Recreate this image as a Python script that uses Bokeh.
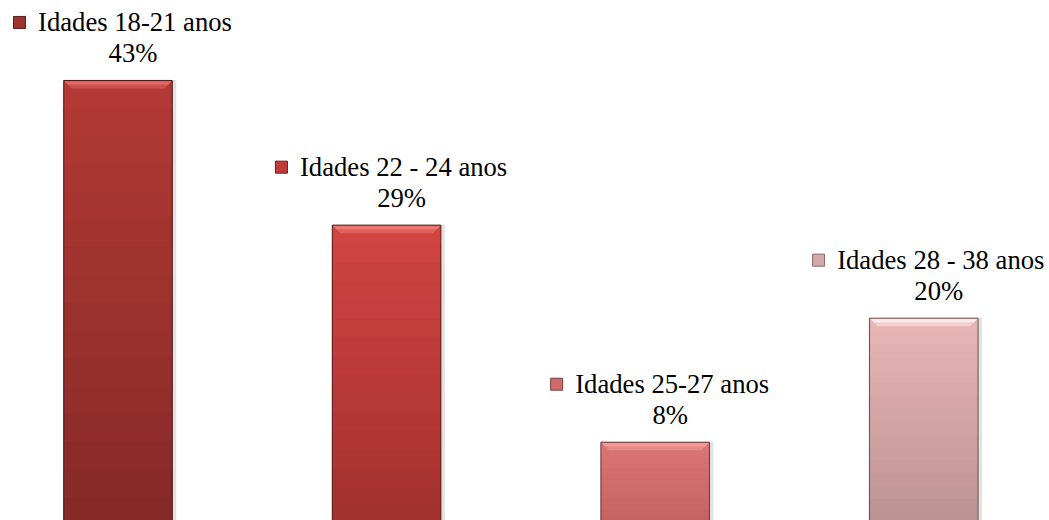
import numpy as np
from bokeh.plotting import figure
from bokeh.models import Range1d
from bokeh.core.properties import value
from bokeh.embed import file_html
from bokeh.resources import INLINE

# ---------------- data ----------------
categories = ["Idades 18-21 anos", "Idades 22 - 24 anos", "Idades 25-27 anos", "Idades 28 - 38 anos"]
values = [43, 29, 8, 20]
pct_labels = ["43%", "29%", "8%", "20%"]

# ---------------- style ----------------
top_colors = ["#B43935", "#D14543", "#DA7675", "#E9B6B6"]
bottom_colors = ["#842A28", "#A2302D", "#C46262", "#BC9293"]
highlight_colors = ["#E46A66", "#F07A76", "#F49C9A", "#FBEAEA"]
marker_colors = ["#9E322F", "#BE3B39", "#CF6B6B", "#D2AAAA"]
marker_lines = ["#5E1A18", "#6E1E1C", "#7E3A3A", "#8A6666"]
FONT = "Liberation Serif"

W, H = 1049, 520
PX_X = 268.6
PX_Y = 10.336
X0_PX = 117.5
BASE_PX = 524.4
BAR_W = 108.5 / PX_X
FONT_PX = 26.67


def hex2rgb(h):
    h = h.lstrip("#")
    return np.array([int(h[i:i + 2], 16) for i in (0, 2, 4)], dtype=float)


def mix(c1, c2, t):
    a, b = hex2rgb(c1), hex2rgb(c2)
    c = a + (b - a) * t
    return "#%02x%02x%02x" % tuple(int(round(v)) for v in c)


CW = {"I": .333, "d": .5, "a": .444, "e": .444, "s": .389, " ": .25, "-": .333,
      "n": .5, "o": .5, "%": .833}
for ch in "0123456789":
    CW[ch] = .5


def text_w(s):
    return sum(CW.get(ch, .5) for ch in s) * FONT_PX


p = figure(width=W, height=H, output_backend="svg", toolbar_location=None,
           x_range=Range1d(-X0_PX / PX_X, (W - X0_PX) / PX_X),
           y_range=Range1d((BASE_PX - H) / PX_Y, BASE_PX / PX_Y), min_border=0)
p.axis.visible = False
p.grid.visible = False
p.outline_line_color = None

xs = list(range(len(values)))

# soft shadow
p.vbar(x=[x + 1.5 / PX_X for x in xs], top=[v + 0.5 / PX_Y for v in values],
       width=BAR_W + 5 / PX_X, fill_color="#e2e2e2", line_color=None)

# gradient faces
N = 16
bx, bt, bb, bc = [], [], [], []
for i, v in enumerate(values):
    edges = np.linspace(v, 0, N + 1)
    step = v / N
    for k in range(N):
        bx.append(i)
        bt.append(edges[k])
        bb.append(max(0.0, edges[k + 1] - step))
        bc.append(mix(top_colors[i], bottom_colors[i], (k + 0.5) / N))
p.vbar(x=bx, top=bt, bottom=bb, width=BAR_W, fill_color=bc, line_color=None)

# top bevel (highlight trapezoid + inner lighter band)
bw = 8 / PX_X
bh = 8 / PX_Y
tx, ty, tc, tx2, ty2, tc2 = [], [], [], [], [], []
for i, v in enumerate(values):
    l, r = i - BAR_W / 2, i + BAR_W / 2
    tx.append([l, r, r - bw, l + bw])
    ty.append([v, v, v - bh, v - bh])
    tc.append(mix(highlight_colors[i], top_colors[i], 0.5))
    tx2.append([l + 1 / PX_X, r - 1 / PX_X, r - 4 / PX_X, l + 4 / PX_X])
    ty2.append([v - 1 / PX_Y, v - 1 / PX_Y, v - 4 / PX_Y, v - 4 / PX_Y])
    tc2.append(highlight_colors[i])
p.patches(tx, ty, fill_color=tc, line_color=None)
p.patches(tx2, ty2, fill_color=tc2, line_color=None)

# outline
p.vbar(x=xs, top=values, width=BAR_W, fill_color=None,
       line_color=[mix(c, "#000000", 0.45) for c in bottom_colors], line_width=1)

# markers
mk_x, mk_y = [], []
for i, v in enumerate(values):
    w = text_w(categories[i])
    cx = i + 17 / PX_X
    mk_x.append(cx - (w / 2 + 18.5) / PX_X)
    mk_y.append(v + 58 / PX_Y)
p.rect(x=mk_x, y=mk_y, width=12, height=12, width_units="screen", height_units="screen",
       fill_color=marker_colors, line_color=marker_lines, line_width=1)

# labels
for i, v in enumerate(values):
    p.text(x=[i + 17 / PX_X], y=[v + 43 / PX_Y], text=[categories[i]], text_font=value(FONT),
           text_font_size="26.67px", text_align="center")
    p.text(x=[i + 15 / PX_X], y=[v + 12 / PX_Y], text=[pct_labels[i]], text_font=value(FONT),
           text_font_size="20pt", text_align="center")

# font warm-up texts (white on white, in empty area), mirroring the working test page
p.text(x=[3.3], y=[48], text=["."], text_font=value("DejaVu Serif"),
       text_font_size="20pt", text_color="#ffffff")
p.text(x=[3.35], y=[48], text=["."], text_font=value("serif"),
       text_font_size="20pt", text_color="#ffffff")

open("out.html", "w").write(file_html(p, INLINE))
